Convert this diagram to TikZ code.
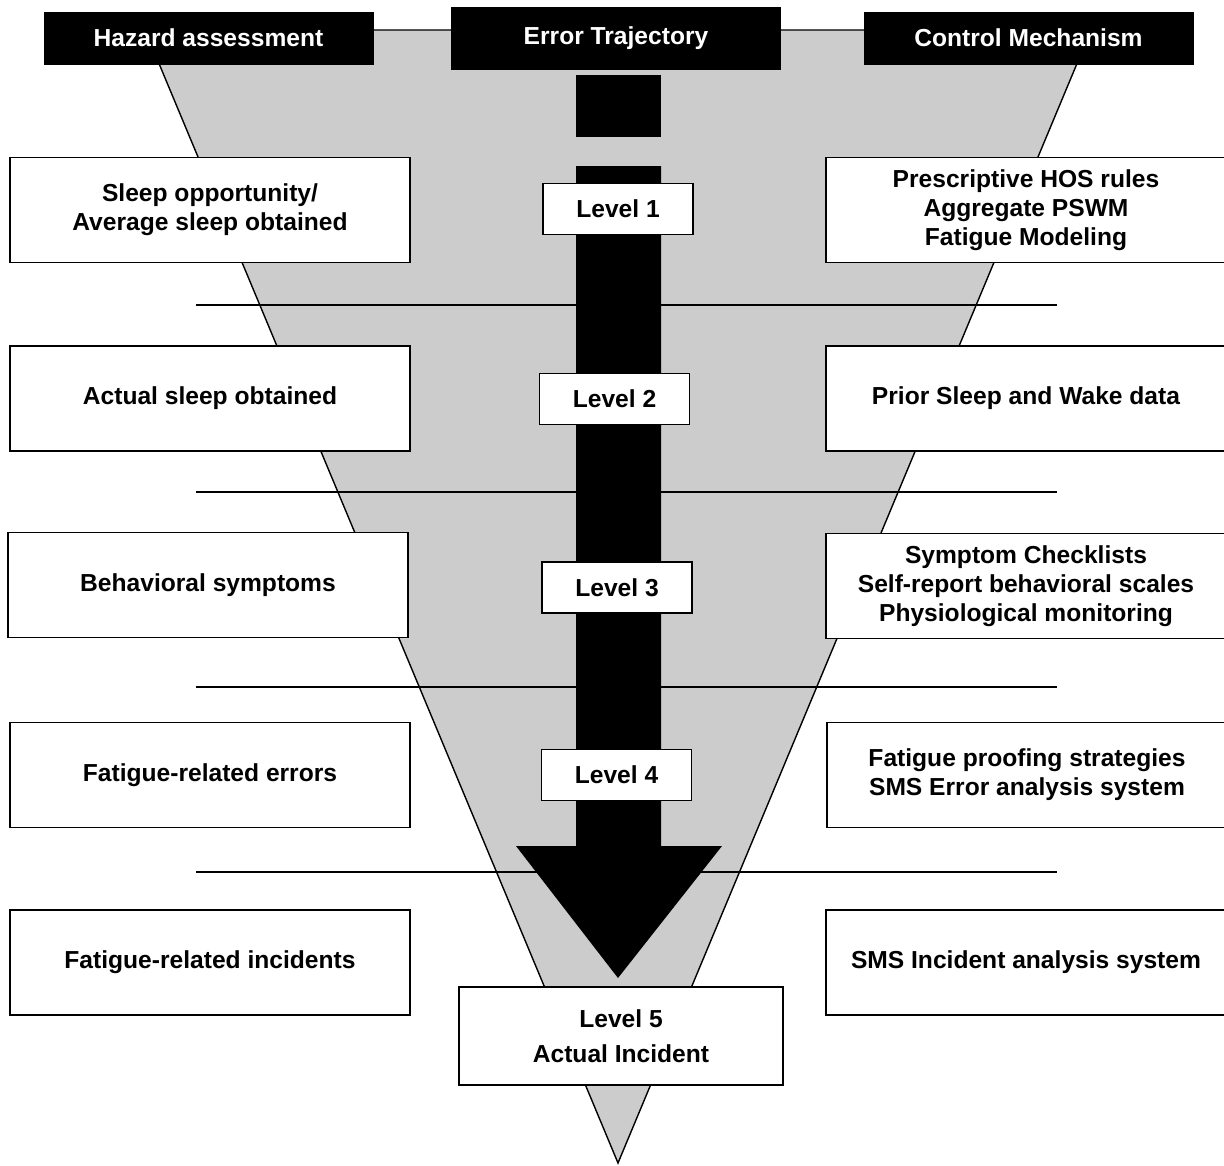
\documentclass[tikz,border=0pt]{standalone}
\usepackage{fontspec}
\setmainfont{Liberation Sans}
\usetikzlibrary{positioning}

\tikzset{
  headbox/.style={draw, fill=black, text=white, font=\fontsize{14}{16}\selectfont\bfseries,
    minimum width=6.58cm, minimum height=1.04cm, inner sep=0pt},
  sidebox/.style={draw, fill=white, line width=1pt, font=\fontsize{14}{16.5}\selectfont\bfseries,
    align=center, minimum width=8cm, minimum height=2.1cm, inner sep=0pt},
  levelbox/.style={draw, fill=white, line width=1pt, font=\fontsize{14}{20}\selectfont\bfseries,
    align=center, minimum width=3cm, minimum height=1.02cm, inner sep=0pt},
}

\begin{document}
\begin{tikzpicture}[x=0.02cm, y=-0.02cm]
  \useasboundingbox (0,0) rectangle (1224,1166);

  % Embudo
  \draw[fill=black!20, line width=0.8pt] (145,30) -- (1091,30) -- (618,1163) -- cycle;

  % Lineas de nivel
  \foreach \yy in {305,492,687,872}
    \draw[line width=0.8pt] (196,\yy) -- (1057,\yy);

  % Flecha
  \fill (576,75) rectangle (661,137);
  \fill (576,166) -- (661,166) -- (661,846) -- (722,846) -- (618,978)
    -- (516,846) -- (576,846) -- cycle;

  % Encabezados
  \node[headbox] (hazard) at (208.5,38) {Hazard assessment};
  \node[headbox, minimum height=1.24cm] (error) at (616,38) {Error Trajectory};
  \node[headbox] (control) at (1028.5,38) {Control Mechanism};

  % Evaluacion del peligro
  \node[sidebox] (haz1) at (210,210) {Sleep opportunity/\\Average sleep obtained};
  \node[sidebox] (haz2) at (210,398.5) {Actual sleep obtained};
  \node[sidebox] (haz3) at (208,585) {Behavioral symptoms};
  \node[sidebox] (haz4) at (210,775) {Fatigue-related errors};
  \node[sidebox] (haz5) at (210,962.5) {Fatigue-related incidents};

  % Mecanismos de control
  \node[sidebox] (ctrl1) at (1026,210) {Prescriptive HOS rules\\Aggregate PSWM\\Fatigue Modeling};
  \node[sidebox] (ctrl2) at (1026,398.5) {Prior Sleep and Wake data};
  \node[sidebox] (ctrl3) at (1026,586) {Symptom Checklists\\Self-report behavioral scales\\Physiological monitoring};
  \node[sidebox] (ctrl4) at (1027,775) {Fatigue proofing strategies\\SMS Error analysis system};
  \node[sidebox] (ctrl5) at (1026,962.5) {SMS Incident analysis system};

  % Niveles
  \node[levelbox] (lev1) at (618,209) {Level 1};
  \node[levelbox] (lev2) at (614.5,399) {Level 2};
  \node[levelbox] (lev3) at (617,587.5) {Level 3};
  \node[levelbox] (lev4) at (616.5,775) {Level 4};
  \node[levelbox, minimum width=6.48cm, minimum height=1.96cm] (lev5) at (621,1036)
    {Level 5\\Actual Incident};
\end{tikzpicture}
\end{document}
